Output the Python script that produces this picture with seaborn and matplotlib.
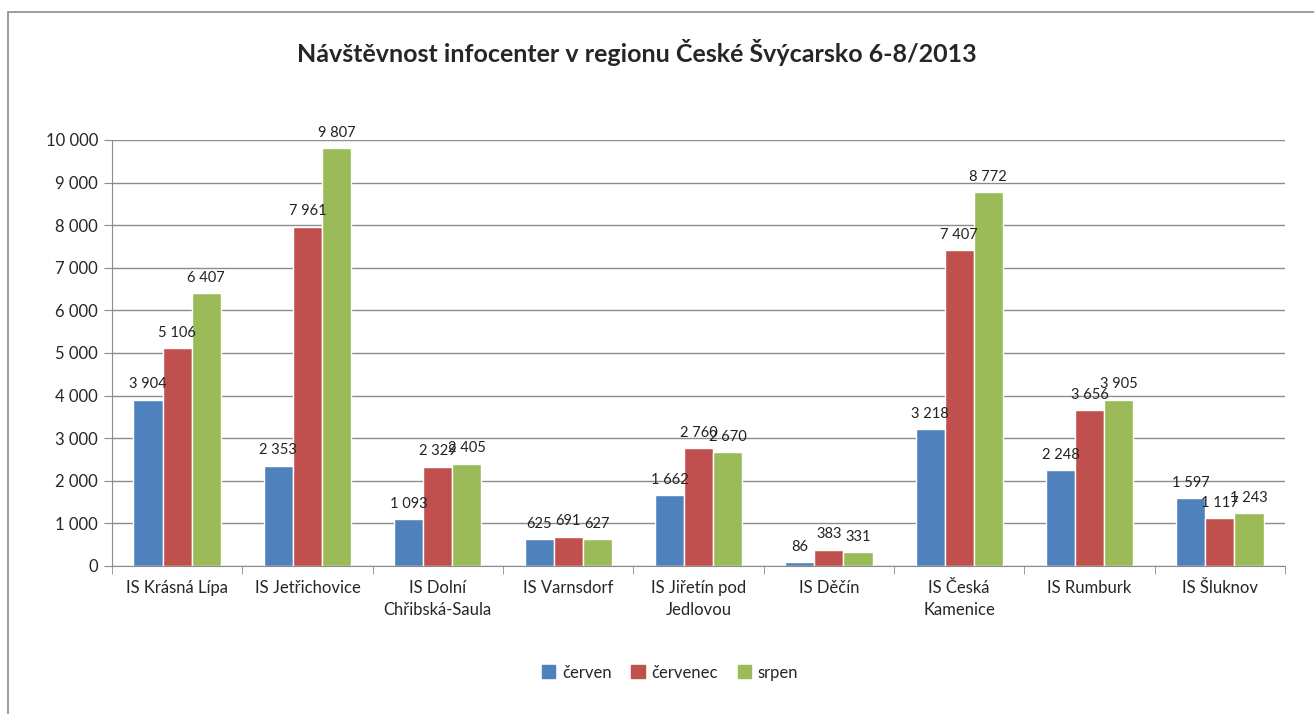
import pandas as pd
import matplotlib.pyplot as plt
import matplotlib.patches as mpatches
import seaborn as sns

# Data
strediska = ['IS Krásná Lípa', 'IS Jetřichovice', 'IS Dolní\nChřibská-Saula', 'IS Varnsdorf',
             'IS Jiřetín pod\nJedlovou', 'IS Děčín', 'IS Česká\nKamenice', 'IS Rumburk', 'IS Šluknov']
mesice = ['červen', 'červenec', 'srpen']
cerven = [3904, 2353, 1093, 625, 1662, 86, 3218, 2248, 1597]
cervenec = [5106, 7961, 2329, 691, 2760, 383, 7407, 3656, 1117]
srpen = [6407, 9807, 2405, 627, 2670, 331, 8772, 3905, 1243]
barvy = ['#4F81BD', '#C0504D', '#9BBB59']

df = pd.DataFrame({
    'stredisko': strediska * 3,
    'mesic': [m for m in mesice for _ in strediska],
    'navstevnost': cerven + cervenec + srpen,
})

sns.set_style('white')
plt.rcParams['font.family'] = ['Lato', 'DejaVu Sans']

fig = plt.figure(figsize=(13.14, 7.14), dpi=100)
ax = fig.add_axes([0.0852, 0.2073, 0.8928, 0.5967])

sns.barplot(data=df, x='stredisko', y='navstevnost', hue='mesic', palette=barvy,
            width=0.67, ax=ax, saturation=1, legend=False)

# popisky hodnot nad sloupci
for cont in ax.containers:
    ax.bar_label(cont, labels=[f'{int(v):,}'.replace(',', ' ') for v in cont.datavalues],
                 padding=6, fontsize=10.5, color='#222222')

ax.set_ylim(0, 10000)
ax.set_yticks(range(0, 10001, 1000))
ax.set_yticklabels([f'{v:,}'.replace(',', ' ') for v in range(0, 10001, 1000)], fontsize=12)
ax.set_xticks(range(len(strediska)))
ax.set_xticklabels(strediska, fontsize=12, linespacing=1.5)
ax.set_xlim(-0.5, len(strediska) - 0.5)
ax.set_xlabel('')
ax.set_ylabel('')
ax.yaxis.grid(True, color='#8c8c8c', linewidth=1)
ax.set_axisbelow(True)
for s in ['top', 'right']:
    ax.spines[s].set_visible(False)
for s in ['left', 'bottom']:
    ax.spines[s].set_color('#8c8c8c')
ax.tick_params(axis='y', length=6, color='#8c8c8c', pad=4, left=True)
ax.tick_params(axis='x', length=0, pad=10)
# carky mezi kategoriemi
ax.set_xticks([i - 0.5 for i in range(len(strediska) + 1)], minor=True)
ax.tick_params(axis='x', which='minor', length=6, color='#8c8c8c', bottom=True)

fig.text(0.485, 0.927, 'Návštěvnost infocenter v regionu České Švýcarsko 6-8/2013',
         ha='center', va='center', fontsize=18, fontweight='bold')

handles = [mpatches.Patch(color=c, label=m) for c, m in zip(barvy, mesice)]
fig.legend(handles=handles, loc='center', bbox_to_anchor=(0.51, 0.058), ncol=3, frameon=False,
           fontsize=12, handlelength=0.8, handleheight=0.8, handletextpad=0.4, columnspacing=1.2)

fig.patches.append(mpatches.Rectangle((8 / 1314, -0.01), 1.0, 0.993, transform=fig.transFigure,
                                      fill=False, edgecolor='#8c8c8c', linewidth=1.2))

fig.savefig('out.png', dpi=100)
